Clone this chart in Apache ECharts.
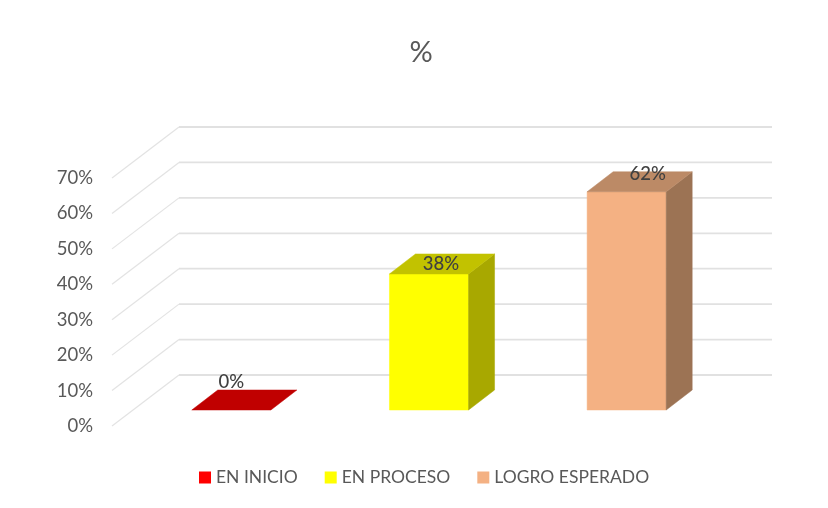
<!DOCTYPE html>
<html>
<head>
<meta charset="utf-8">
<style>html,body{margin:0;padding:0;background:#fff}#c{width:828px;height:508px}</style>
<script src="https://cdn.jsdelivr.net/npm/echarts@6/dist/echarts.min.js"></script>
</head>
<body>
<div id="c"></div>
<script>
const titleText = '%';
const categories = ['EN INICIO', 'EN PROCESO', 'LOGRO ESPERADO'];
const seriesValues = [0, 38.4, 61.6];
const yTicks = [0, 10, 20, 30, 40, 50, 60, 70];

// Styling of the pseudo-3D look (not data)
const FONT = 'Lato, "Open Sans", sans-serif';
const frontColors = ['#FF0000', '#FFFF00', '#F4B183'];
const topColors = ['#C00000', '#C2C200', '#BC8A66'];
const sideColors = ['#A00000', '#A8A800', '#9C7354'];
const wall = { dx: 67, dy: -51 };          // floor depth of the chart box
const barShift = { dx: 20.5, dy: -16 };    // front plane of the bars inside the box
const barDepth = { dx: 26, dy: -20 };      // depth of each bar
const labelNudge = [[0, -28], [12, -10], [21, -18]];

function poly(points, fill, extra) {
  return Object.assign({ type: 'polygon', shape: { points }, style: { fill, stroke: fill, lineWidth: 0.5 } }, extra || {});
}

function renderGrid(params, api) {
  const v = api.value(0);
  const cs = params.coordSys;
  const y = api.coord([0, v])[1];
  const x0 = cs.x, x1 = cs.x + wall.dx, x2 = cs.x + cs.width + wall.dx, yb = y + wall.dy;
  const ln = { stroke: '#E1E1E1', lineWidth: 1.8, fill: null };
  return {
    type: 'group',
    children: [
      { type: 'line', shape: { x1: x0, y1: y, x2: x1, y2: yb }, style: { stroke: '#E3E3E3', lineWidth: 1.2 } },
      { type: 'line', shape: { x1: x1, y1: yb, x2: x2, y2: yb }, style: ln }
    ]
  };
}

function renderBar(idx) {
  return function (params, api) {
    const cat = api.value(0), val = api.value(1);
    const base = api.coord([cat, 0]);
    const topPt = api.coord([cat, val]);
    const w = api.size([1, 0])[0] * 0.4;
    const xL = base[0] + barShift.dx - w / 2;
    const xR = xL + w;
    const yB = base[1] + barShift.dy;
    const yT = topPt[1] + barShift.dy;
    const d = barDepth;
    const children = [];
    if (yB - yT > 0.5) {
      children.push(poly([[xL, yB], [xR, yB], [xR, yT], [xL, yT]], frontColors[idx]));
      children.push(poly([[xR, yB], [xR + d.dx, yB + d.dy], [xR + d.dx, yT + d.dy], [xR, yT]], sideColors[idx]));
    }
    children.push(poly([[xL, yT], [xR, yT], [xR + d.dx, yT + d.dy], [xL + d.dx, yT + d.dy]], topColors[idx]));
    children.push({
      type: 'text',
      style: {
        text: Math.round(val) + '%',
        x: (xL + xR) / 2 + labelNudge[idx][0],
        y: yT + labelNudge[idx][1],
        fill: '#404040',
        font: '500 18.5px ' + FONT,
        align: 'center',
        verticalAlign: 'middle'
      }
    });
    return { type: 'group', children };
  };
}

const chart = echarts.init(document.getElementById('c'), null, { renderer: 'canvas' });

const barSeries = categories.map((name, i) => ({
  type: 'custom',
  name,
  coordinateSystem: 'cartesian2d',
  renderItem: renderBar(i),
  itemStyle: { color: frontColors[i] },
  encode: { x: 0, y: 1 },
  data: [[i, seriesValues[i]]],
  clip: false,
  z: 5 + i,
  silent: true
}));

chart.setOption({
  animation: false,
  backgroundColor: '#fff',
  title: {
    text: titleText,
    left: 421,
    top: 38,
    padding: 0,
    textAlign: 'center',
    textStyle: { color: '#595959', fontSize: 29, fontWeight: 'normal', fontFamily: FONT }
  },
  legend: {
    data: categories,
    left: 199,
    top: 468.5,
    padding: 0,
    itemWidth: 12,
    itemHeight: 12,
    itemGap: 27,
    icon: 'rect',
    textStyle: { color: '#595959', fontSize: 17.5, fontFamily: FONT }
  },
  grid: { left: 112, top: 178, width: 593, height: 248 },
  xAxis: { type: 'category', data: categories, show: false },
  yAxis: {
    type: 'value',
    min: yTicks[0],
    max: yTicks[yTicks.length - 1],
    interval: 10,
    axisLine: { show: false },
    axisTick: { show: false },
    splitLine: { show: false },
    axisLabel: { formatter: '{value}%', margin: 19, color: '#595959', fontSize: 18.5, fontFamily: FONT }
  },
  series: [{
    type: 'custom',
    name: 'grid',
    coordinateSystem: 'cartesian2d',
    renderItem: renderGrid,
    data: yTicks.map(t => [t]),
    encode: { y: 0 },
    clip: false,
    silent: true,
    z: 1
  }].concat(barSeries)
});
</script>
</body>
</html>
